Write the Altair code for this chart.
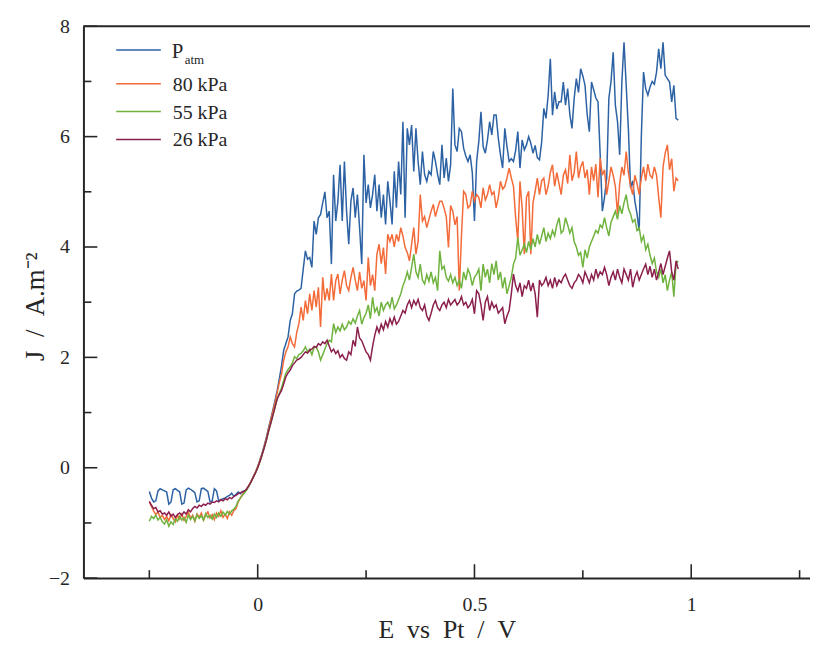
import altair as alt
import pandas as pd

# Potential grid (V vs Pt), 0.005 V sampling from -0.25 to 0.97 V
potential = [round(-0.25 + 0.005 * i, 3) for i in range(245)]

j_patm = [
    -0.43, -0.55, -0.62, -0.60, -0.42, -0.38, -0.40, -0.42, -0.44, -0.66,
    -0.62, -0.40, -0.38, -0.41, -0.44, -0.66, -0.64, -0.40, -0.37, -0.39,
    -0.42, -0.45, -0.62, -0.60, -0.38, -0.37, -0.40, -0.43, -0.62, -0.60,
    -0.38, -0.42, -0.60, -0.58, -0.56, -0.55, -0.52, -0.50, -0.46, -0.52,
    -0.48, -0.44, -0.47, -0.43, -0.42, -0.38, -0.32, -0.24, -0.16, -0.08,
    0.02, 0.14, 0.26, 0.40, 0.55, 0.72, 0.88, 1.05, 1.22, 1.40,
    1.62, 1.85, 2.13, 2.25, 2.37, 2.67, 2.79, 3.15, 3.20, 3.22,
    3.25, 3.60, 3.93, 3.78, 3.81, 3.63, 4.47, 4.23, 4.53, 4.59,
    4.80, 5.00, 4.53, 4.65, 3.69, 5.31, 4.47, 4.83, 5.49, 4.47,
    5.55, 4.65, 4.05, 4.83, 5.07, 4.53, 4.95, 4.35, 3.69, 5.67,
    4.80, 5.13, 4.71, 4.95, 5.31, 4.65, 5.13, 4.53, 4.95, 4.41,
    5.19, 4.83, 4.41, 5.37, 4.71, 5.55, 4.95, 6.27, 4.53, 6.15,
    5.85, 6.21, 5.37, 6.15, 5.55, 5.13, 5.73, 5.31, 5.19, 5.37,
    5.31, 5.73, 5.55, 5.31, 5.13, 5.85, 5.25, 5.61, 5.19, 5.49,
    6.87, 5.85, 5.73, 6.15, 6.09, 5.79, 5.65, 5.55, 5.67, 5.35,
    4.47, 5.55, 5.91, 6.45, 5.82, 5.70, 5.94, 6.27, 6.03, 6.39,
    6.39, 5.97, 5.67, 5.43, 6.15, 5.82, 5.55, 5.60, 5.55, 5.75,
    6.09, 5.43, 5.94, 5.76, 5.85, 6.00, 5.88, 5.70, 5.84, 5.62,
    5.58, 5.90, 6.51, 6.33, 6.75, 7.41, 6.39, 6.81, 6.50, 6.63,
    6.63, 6.99, 6.57, 6.87, 6.40, 6.15, 6.69, 7.05, 6.80, 7.23,
    7.10, 6.93, 6.40, 6.09, 6.99, 6.85, 6.70, 6.63, 5.67, 4.65,
    4.90, 5.25, 6.69, 7.00, 7.53, 6.57, 6.27, 5.67, 6.99, 7.71,
    6.93, 6.15, 5.07, 5.20, 4.83, 4.60, 4.29, 6.03, 7.17, 6.87,
    6.75, 6.90, 7.00, 6.95, 7.17, 7.59, 7.23, 7.71, 7.11, 7.05,
    6.99, 6.63, 6.93, 6.33, 6.30,
]

j_80kpa = [
    -0.62, -0.70, -0.78, -0.85, -0.80, -0.90, -0.86, -0.94, -0.88, -0.96,
    -0.85, -0.92, -0.98, -0.86, -0.93, -0.84, -0.95, -0.88, -0.80, -0.92,
    -0.86, -0.97, -0.84, -0.90, -0.82, -0.95, -0.86, -0.80, -0.91, -0.85,
    -0.94, -0.82, -0.88, -0.78, -0.90, -0.84, -0.92, -0.80, -0.86, -0.78,
    -0.74, -0.62, -0.55, -0.48, -0.44, -0.38, -0.32, -0.24, -0.16, -0.08,
    0.02, 0.13, 0.25, 0.38, 0.53, 0.70, 0.86, 1.02, 1.18, 1.36,
    1.55, 1.70, 1.95, 2.10, 2.19, 2.37, 2.25, 2.19, 2.45, 2.61,
    2.91, 2.67, 3.03, 2.79, 3.15, 2.85, 3.21, 2.91, 3.27, 2.55,
    3.45, 3.03, 3.25, 3.03, 3.51, 3.03, 3.39, 3.51, 3.15, 3.40,
    3.57, 3.30, 3.21, 3.45, 3.63, 3.40, 3.21, 3.55, 3.25, 3.39,
    3.03, 3.81, 3.30, 3.50, 3.21, 3.87, 4.05, 3.70, 3.99, 3.51,
    4.23, 4.10, 4.23, 4.00, 4.23, 4.10, 4.35, 4.20, 3.99, 3.90,
    3.75, 4.05, 4.35, 3.87, 4.10, 4.95, 4.47, 4.55, 4.35, 4.50,
    4.65, 4.77, 4.55, 4.70, 4.83, 4.83, 4.70, 4.55, 3.99, 4.75,
    4.65, 4.40, 4.55, 3.21, 4.20, 5.01, 4.95, 4.71, 4.75, 5.01,
    4.83, 4.95, 4.90, 4.71, 5.07, 4.85, 4.95, 5.13, 4.95, 5.00,
    4.71, 4.90, 5.19, 5.05, 5.10, 5.25, 5.43, 5.25, 5.10, 4.53,
    4.11, 5.19, 4.70, 3.87, 4.90, 5.01, 3.87, 4.80, 5.01, 5.25,
    4.95, 5.20, 5.25, 4.95, 5.10, 5.35, 5.49, 5.10, 5.35, 5.15,
    4.95, 5.30, 5.40, 5.15, 5.67, 5.20, 5.35, 5.73, 5.25, 5.45,
    5.55, 5.25, 5.40, 4.95, 5.45, 5.20, 5.50, 4.90, 5.61, 5.30,
    5.40, 4.95, 5.20, 5.45, 5.30, 5.10, 4.59, 5.15, 5.45, 5.30,
    5.73, 5.35, 5.10, 4.95, 5.30, 5.15, 4.95, 5.25, 5.45, 5.20,
    5.50, 5.30, 5.25, 5.45, 5.30, 4.90, 4.53, 5.45, 5.70, 5.85,
    5.40, 5.60, 5.01, 5.25, 5.20,
]

j_55kpa = [
    -0.97, -0.88, -0.92, -0.86, -0.95, -0.90, -0.98, -1.02, -0.94, -1.06,
    -0.98, -1.03, -0.92, -0.97, -0.88, -0.95, -0.90, -0.99, -0.86, -0.94,
    -0.88, -0.96, -0.85, -0.92, -0.87, -0.95, -0.83, -0.90, -0.86, -0.93,
    -0.84, -0.90, -0.82, -0.88, -0.80, -0.86, -0.79, -0.84, -0.78, -0.75,
    -0.70, -0.60, -0.55, -0.50, -0.45, -0.40, -0.33, -0.25, -0.17, -0.09,
    0.00, 0.11, 0.23, 0.36, 0.50, 0.66, 0.80, 0.95, 1.10, 1.25,
    1.35, 1.45, 1.58, 1.71, 1.78, 1.83, 1.90, 2.01, 1.98, 2.05,
    2.07, 2.12, 2.19, 2.10, 2.15, 2.05, 2.18, 2.19, 2.10, 1.95,
    2.05, 2.15, 2.25, 2.31, 2.28, 2.61, 2.45, 2.55, 2.48, 2.60,
    2.50, 2.55, 2.65, 2.60, 2.70, 2.62, 2.75, 2.85, 2.60, 2.72,
    2.80, 2.95, 2.70, 3.09, 2.82, 2.90, 2.75, 3.00, 2.85, 2.95,
    3.00, 2.90, 3.09, 2.88, 2.95, 3.05, 3.15, 3.30, 3.40, 3.55,
    3.40, 3.63, 3.87, 3.55, 3.45, 3.69, 3.40, 3.33, 3.50, 3.38,
    3.55, 3.35, 3.45, 3.21, 3.93, 3.60, 3.65, 3.45, 3.38, 3.50,
    3.35, 3.45, 3.30, 3.40, 3.25, 3.55, 3.40, 3.60, 3.50, 3.30,
    3.45, 3.51, 3.60, 3.21, 3.69, 3.45, 3.60, 3.35, 3.70, 3.50,
    3.75, 3.40, 3.55, 3.25, 3.45, 3.15, 3.30, 3.45, 3.69, 3.80,
    4.17, 3.85, 3.95, 4.05, 3.90, 4.10, 3.95, 4.15, 4.00, 4.23,
    4.05, 4.20, 4.35, 4.10, 4.25, 4.15, 4.30, 4.20, 4.40, 4.53,
    4.25, 4.30, 4.53, 4.40, 4.25, 4.35, 4.10, 4.00, 3.85, 3.90,
    3.63, 3.95, 3.80, 4.00, 4.10, 4.20, 4.30, 4.25, 4.40, 4.35,
    4.53, 4.35, 4.20, 4.45, 4.55, 4.65, 4.50, 4.75, 4.60, 4.80,
    4.95, 4.70, 4.60, 4.45, 4.50, 4.30, 4.35, 4.10, 4.20, 3.95,
    4.05, 3.85, 3.70, 3.80, 3.55, 3.45, 3.60, 3.35, 3.50, 3.21,
    3.40, 3.55, 3.10, 3.69, 3.75,
]

j_26kpa = [
    -0.61, -0.68, -0.74, -0.72, -0.80, -0.78, -0.84, -0.82, -0.86, -0.80,
    -0.88, -0.84, -0.90, -0.85, -0.82, -0.86, -0.80, -0.84, -0.76, -0.80,
    -0.74, -0.70, -0.73, -0.68, -0.70, -0.66, -0.68, -0.64, -0.66, -0.62,
    -0.63, -0.60, -0.62, -0.58, -0.60, -0.56, -0.58, -0.54, -0.56, -0.52,
    -0.50, -0.47, -0.45, -0.44, -0.42, -0.38, -0.32, -0.25, -0.17, -0.09,
    0.00, 0.11, 0.23, 0.36, 0.50, 0.66, 0.80, 0.95, 1.10, 1.25,
    1.33, 1.40, 1.52, 1.65, 1.72, 1.77, 1.85, 1.90, 1.95, 1.97,
    2.00, 2.05, 2.10, 2.08, 2.13, 2.15, 2.20, 2.18, 2.25, 2.22,
    2.28, 2.25, 2.31, 2.20, 2.10, 2.15, 2.07, 2.12, 2.00, 2.05,
    1.98, 1.95, 2.10, 2.05, 2.31, 2.20, 2.55, 2.35, 2.30, 2.20,
    2.10, 2.05, 1.95, 2.20, 2.40, 2.55, 2.45, 2.60, 2.50, 2.65,
    2.55, 2.70, 2.60, 2.73, 2.60, 2.65, 2.75, 2.85, 2.80, 2.95,
    3.03, 2.90, 3.03, 2.95, 3.05, 2.90, 2.85, 2.95, 2.75, 2.67,
    2.80, 2.95, 3.03, 2.90, 2.85, 2.95, 3.00, 2.90, 3.05, 2.95,
    3.00, 3.05, 2.95, 3.00, 3.10, 2.95, 3.00, 2.90, 2.95, 3.05,
    2.79, 3.21, 3.15, 2.95, 2.67, 3.00, 3.10, 2.85, 3.00, 2.90,
    2.95, 2.80, 2.85, 2.90, 2.61, 2.75, 2.85, 3.15, 3.51, 3.30,
    3.20, 3.35, 3.10, 3.30, 3.25, 3.40, 3.20, 3.35, 3.15, 2.73,
    3.40, 3.30, 3.35, 3.45, 3.30, 3.40, 3.25, 3.45, 3.30, 3.40,
    3.35, 3.45, 3.51, 3.40, 3.30, 3.25, 3.35, 3.40, 3.50, 3.45,
    3.35, 3.55, 3.45, 3.35, 3.50, 3.40, 3.60, 3.45, 3.55, 3.50,
    3.63, 3.50, 3.30, 3.45, 3.55, 3.40, 3.60, 3.45, 3.35, 3.60,
    3.50, 3.40, 3.60, 3.27, 3.45, 3.55, 3.40, 3.50, 3.60, 3.69,
    3.50, 3.65, 3.45, 3.60, 3.40, 3.55, 3.70, 3.50, 3.65, 3.80,
    3.93, 3.55, 3.40, 3.75, 3.60,
]

series_names = ["Patm", "80 kPa", "55 kPa", "26 kPa"]
series_values = [j_patm, j_80kpa, j_55kpa, j_26kpa]
series_colors = ["#2c62a4", "#f36b39", "#6fb33e", "#8a1f4c"]

x_major = [0, 0.5, 1]
x_minor = [-0.25, 0.25, 0.75, 1.25]
y_major = [-2, 0, 2, 4, 6, 8]
y_minor = [-1, 1, 3, 5, 7]

FONT = "Liberation Serif"
INK = "#262626"
W, H = 732, 556

xscale = alt.Scale(domain=[-0.402, 1.274], nice=False, zero=False)
yscale = alt.Scale(domain=[-2, 8], nice=False, zero=False)

xaxis = alt.Axis(
    values=x_major, format="~g", grid=False, ticks=False, tickSize=0,
    domainColor=INK, domainWidth=2,
    labelFont=FONT, labelFontSize=20, labelColor=INK, labelPadding=17,
    title="E\u2002vs\u2002Pt\u2002/\u2002V", titleFont=FONT, titleFontSize=26,
    titleFontWeight="normal", titleColor=INK, titleY=60, titleBaseline="alphabetic",
)
yaxis = alt.Axis(
    values=y_major, format="~g", grid=False, ticks=False, tickSize=0,
    domainColor=INK, domainWidth=2,
    labelFont=FONT, labelFontSize=20, labelColor=INK, labelPadding=14,
    title="J\u2002/\u2002A.m\u207b\u00b2", titleFont=FONT, titleFontSize=27,
    titleFontWeight="normal", titleColor=INK, titleX=-40, titleY=H / 2 + 4,
    titleAngle=270, titleBaseline="alphabetic", titleAlign="center",
)

layers = []
for name, vals, col in zip(series_names, series_values, series_colors):
    df = pd.DataFrame({"E": potential, "J": vals, "series": name})
    layers.append(
        alt.Chart(df).mark_line(color=col, strokeWidth=1.5).encode(
            x=alt.X("E:Q", scale=xscale, axis=xaxis),
            y=alt.Y("J:Q", scale=yscale, axis=yaxis),
        )
    )

# inward tick marks
def yticks(vals, length):
    return alt.Chart(pd.DataFrame({"v": vals})).mark_rule(color=INK, strokeWidth=1.6).encode(
        y=alt.Y("v:Q", scale=yscale, axis=yaxis), x=alt.value(0), x2=alt.value(length)
    )

def xticks(vals, length):
    return alt.Chart(pd.DataFrame({"v": vals})).mark_rule(color=INK, strokeWidth=1.6).encode(
        x=alt.X("v:Q", scale=xscale, axis=xaxis), y=alt.value(H), y2=alt.value(H - length)
    )

layers += [yticks(y_major, 14), yticks(y_minor, 8), xticks(x_major, 14), xticks(x_minor, 8)]

one = pd.DataFrame({"k": [0]})
# top frame line
layers.append(
    alt.Chart(one).mark_rule(color=INK, strokeWidth=2).encode(
        x=alt.value(0), x2=alt.value(W), y=alt.value(0)
    )
)

# legend
legend_y = [24, 58, 86, 114]
for i, (name, col) in enumerate(zip(series_names, series_colors)):
    ly = legend_y[i]
    layers.append(
        alt.Chart(one).mark_rule(color=col, strokeWidth=1.5).encode(
            x=alt.value(33), x2=alt.value(78), y=alt.value(ly)
        )
    )
    if name == "Patm":
        layers.append(
            alt.Chart(one).mark_text(font=FONT, fontSize=21, color=INK, align="left", baseline="alphabetic").encode(
                x=alt.value(89), y=alt.value(ly + 8), text=alt.value("P")
            )
        )
        layers.append(
            alt.Chart(one).mark_text(font=FONT, fontSize=13, color=INK, align="left", baseline="alphabetic").encode(
                x=alt.value(102), y=alt.value(ly + 14), text=alt.value("atm")
            )
        )
    else:
        layers.append(
            alt.Chart(one).mark_text(font=FONT, fontSize=20, color=INK, align="left", baseline="middle").encode(
                x=alt.value(90), y=alt.value(ly + 1), text=alt.value(name.replace(" ", "\u00a0"))
            )
        )

chart = alt.layer(*layers).properties(
    width=W, height=H,
    autosize=alt.AutoSizeParams(type="none"),
    padding={"left": 76, "top": 16, "right": 0, "bottom": 65},
).configure_view(stroke=None)

chart.save("out.html", embed_options={"renderer": "svg", "actions": False})
